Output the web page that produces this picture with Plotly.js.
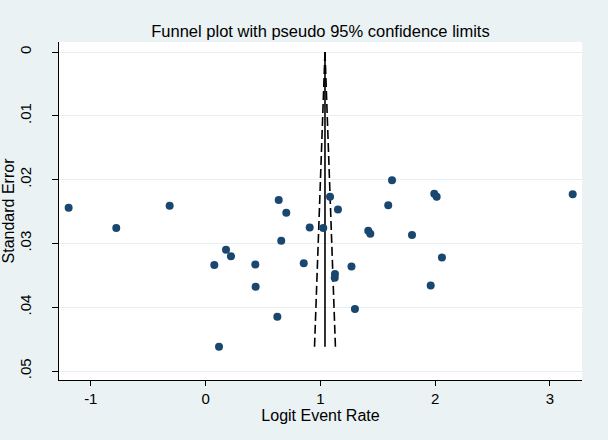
<!DOCTYPE html>
<html>
<head>
<meta charset="utf-8">
<script src="https://cdn.plot.ly/plotly-3.0.1.min.js"></script>
<style>html,body{margin:0;padding:0;background:#EAF2F3;}</style>
</head>
<body>
<div id="chart" style="width:608px;height:440px;"></div>
<script>
// Study estimates
const logitRate = [-1.193, -0.778, -0.313, 0.637, 0.703, 0.907, 1.025, 1.084, 1.153, 0.659,
  0.178, 0.221, 0.076, 0.433, 0.855, 1.271, 1.127, 1.125, 0.436, 0.625,
  0.117, 1.624, 1.992, 2.013, 1.591, 1.417, 1.435, 1.798, 2.059, 1.961,
  1.301, 3.198];
const stdError = [0.0244, 0.0276, 0.0241, 0.0232, 0.0252, 0.0275, 0.0276, 0.0227, 0.0247, 0.0296,
  0.0310, 0.0320, 0.0334, 0.0333, 0.0331, 0.0336, 0.0348, 0.0354, 0.0368, 0.0415,
  0.0462, 0.0201, 0.0222, 0.0227, 0.0240, 0.0280, 0.0285, 0.0287, 0.0322, 0.0366,
  0.0403, 0.0223];

// Funnel: pooled estimate and pseudo 95% limits
const funnelSE = [0, 0.0462];
const pooled = [1.04, 1.04];
const lowerLimit = [1.04, 0.949];
const upperLimit = [1.04, 1.131];

const xTickVals = [-1, 0, 1, 2, 3];
const xTickText = ['-1', '0', '1', '2', '3'];
const yTickVals = [0, 0.01, 0.02, 0.03, 0.04, 0.05];
const yTickText = ['0', '.01', '.02', '.03', '.04', '.05'];

const FONT = 'Liberation Sans, Arial, sans-serif';
const navy = '#1a476f';

const traces = [
  {x: lowerLimit, y: funnelSE, mode: 'lines', line: {color: '#000', width: 1.6, dash: '9px,4px'}, hoverinfo: 'skip', showlegend: false},
  {x: upperLimit, y: funnelSE, mode: 'lines', line: {color: '#000', width: 1.6, dash: '9px,4px'}, hoverinfo: 'skip', showlegend: false},
  {x: pooled, y: funnelSE, mode: 'lines', line: {color: '#000', width: 1.6}, hoverinfo: 'skip', showlegend: false},
  {x: logitRate, y: stdError, mode: 'markers', marker: {color: navy, size: 8, line: {color: navy, width: 0}}, showlegend: false}
];

const layout = {
  width: 608, height: 440,
  paper_bgcolor: '#EAF2F3',
  plot_bgcolor: '#FFFFFF',
  margin: {l: 59, r: 26, t: 42, b: 60, pad: 0},
  font: {family: FONT, color: '#000', size: 15},
  showlegend: false,
  title: {
    text: 'Funnel plot with pseudo 95% confidence limits',
    font: {family: FONT, size: 16.5, color: '#000'},
    x: 0.5, xref: 'paper', xanchor: 'center',
    y: 1 - 31/440, yref: 'container', yanchor: 'middle'
  },
  xaxis: {
    range: [-1.277, 3.279], autorange: false,
    tickvals: xTickVals, ticktext: xTickText,
    ticks: 'outside', ticklen: 5, tickwidth: 1, tickcolor: '#000',
    showline: true, linecolor: '#000', linewidth: 1, mirror: false,
    showgrid: false, zeroline: false,
    tickfont: {family: FONT, size: 15, color: '#000'},
    ticklabelstandoff: 0,
    title: {text: 'Logit Event Rate', font: {family: FONT, size: 16, color: '#000'}, standoff: 0}
  },
  yaxis: {
    range: [0.05141, -0.00157], autorange: false,
    tickvals: yTickVals, ticktext: yTickText, tickangle: -90,
    ticks: 'outside', ticklen: 6, tickwidth: 1, tickcolor: '#000',
    showline: true, linecolor: '#000', linewidth: 1, mirror: false,
    showgrid: true, gridcolor: '#E6EEF0', gridwidth: 1,
    zeroline: false,
    tickfont: {family: FONT, size: 15, color: '#000'},
    ticklabelstandoff: 15,
    title: {text: 'Standard Error', font: {family: FONT, size: 16, color: '#000'}, standoff: 0}
  }
};

Plotly.newPlot('chart', traces, layout, {displayModeBar: false, staticPlot: true});
</script>
</body>
</html>
